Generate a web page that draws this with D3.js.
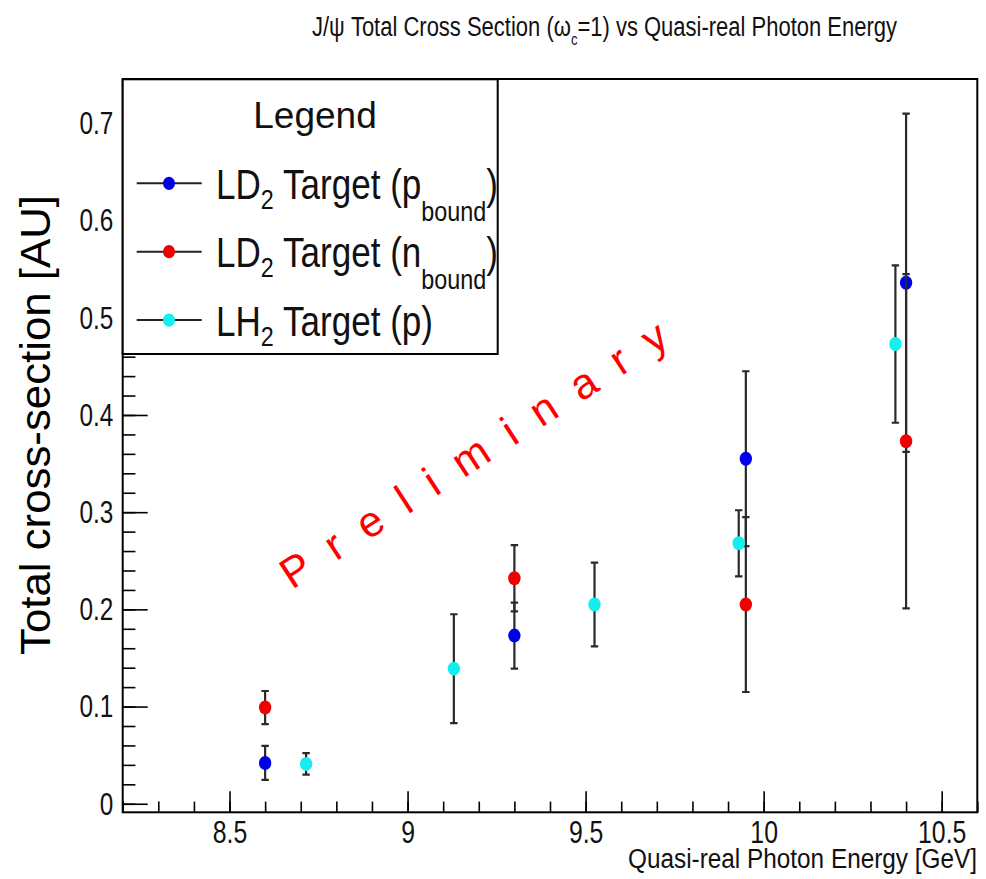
<!DOCTYPE html>
<html>
<head>
<meta charset="utf-8">
<script src="https://cdn.jsdelivr.net/npm/d3@7"></script>
<style>
body { margin: 0; background: #fff; }
svg { display: block; }
text { font-family: "Liberation Sans", Arial, Helvetica, sans-serif; }
</style>
</head>
<body>
<svg id="chart" width="986" height="879"></svg>
<script>
// LD2 target, bound proton
const ld2pEnergy = [8.6, 9.3, 9.95, 10.4]
const ld2pSigma = [0.042, 0.173, 0.355, 0.536]
const ld2pError = [0.0175, 0.034, 0.09, 0.174]
// LD2 target, bound neutron
const ld2nEnergy = [8.6, 9.3, 9.95, 10.4]
const ld2nSigma = [0.099, 0.232, 0.205, 0.373]
const ld2nError = [0.017, 0.034, 0.09, 0.172]
// LH2 target, free proton
const lh2Energy = [8.715, 9.13, 9.525, 9.93, 10.37]
const lh2Sigma = [0.041, 0.139, 0.205, 0.268, 0.473]
const lh2Error = [0.011, 0.056, 0.043, 0.034, 0.081]

const xTicks = [8.5, 9, 9.5, 10, 10.5]
const xTickLabels = ['8.5', '9', '9.5', '10', '10.5']
const yTicks = [0, 0.1, 0.2, 0.3, 0.4, 0.5, 0.6, 0.7]
const yTickLabels = ['0', '0.1', '0.2', '0.3', '0.4', '0.5', '0.6', '0.7']

function main() {
    let svg = d3.select('#chart')
    svg.append('rect').attr('width', 986).attr('height', 879).attr('fill', '#fff')

    let x = d3.scaleLinear().domain([8.2, 10.6]).range([122.7, 977.3]),
        y = d3.scaleLinear().domain([-0.0088, 0.7457]).range([812.3, 79])

    let series = [
        {id: 'p', color: '#0000e8', e: ld2pEnergy, v: ld2pSigma, err: ld2pError},
        {id: 'n', color: '#f00000', e: ld2nEnergy, v: ld2nSigma, err: ld2nError},
        {id: 'h', color: '#14eeee', e: lh2Energy, v: lh2Sigma, err: lh2Error}
    ]

    let xMinor = d3.range(82, 107).map(d => d / 10),
        yMinor = d3.range(0, 38).map(d => d / 50)

    // minor ticks
    svg.append('g')
        .attr('transform', 'translate(0,' + y.range()[0] + ')')
        .attr('color', '#000')
        .call(d3.axisBottom(x).tickValues(xMinor).tickSize(-10.7).tickFormat(''))
        .call(g => g.select('.domain').remove())
        .selectAll('line').attr('stroke-width', 1.6)

    svg.append('g')
        .attr('transform', 'translate(' + x.range()[0] + ',0)')
        .attr('color', '#000')
        .call(d3.axisLeft(y).tickValues(yMinor).tickSize(-12.7).tickFormat(''))
        .call(g => g.select('.domain').remove())
        .selectAll('line').attr('stroke-width', 1.6)

    // major ticks + labels
    let xAxis = svg.append('g')
        .attr('transform', 'translate(0,' + y.range()[0] + ')')
        .attr('color', '#000')
        .call(d3.axisBottom(x).tickValues(xTicks).tickSize(-21).tickPadding(9)
            .tickFormat((d, i) => xTickLabels[i]))
        .call(g => g.select('.domain').remove())
    xAxis.selectAll('line').attr('stroke-width', 1.6)
    xAxis.selectAll('text')
        .attr('font-size', 31)
        .attr('font-family', '"Liberation Sans", Arial, sans-serif')
        .attr('transform', 'scale(0.8,1)')
        .attr('fill', '#111')

    let yAxis = svg.append('g')
        .attr('transform', 'translate(' + x.range()[0] + ',0)')
        .attr('color', '#000')
        .call(d3.axisLeft(y).tickValues(yTicks).tickSize(-25).tickPadding(12)
            .tickFormat((d, i) => yTickLabels[i]))
        .call(g => g.select('.domain').remove())
    yAxis.selectAll('line').attr('stroke-width', 1.6)
    yAxis.selectAll('text')
        .attr('font-size', 32)
        .attr('font-family', '"Liberation Sans", Arial, sans-serif')
        .attr('transform', 'scale(0.76,1)')
        .attr('x', -12.3)
        .attr('fill', '#111')

    // frame
    svg.append('rect')
        .attr('x', x.range()[0]).attr('y', y.range()[1])
        .attr('width', x.range()[1] - x.range()[0])
        .attr('height', y.range()[0] - y.range()[1])
        .attr('fill', 'none').attr('stroke', '#000').attr('stroke-width', 2)

    // error bars and points
    let cap = 3.7
    series.forEach(s => {
        let pts = s.e.map((e, i) => ({e: e, v: s.v[i], err: s.err[i]}))
        let g = svg.append('g').attr('class', 'series-' + s.id)
        g.selectAll('.bar').data(pts).enter().append('path')
            .attr('class', 'bar')
            .attr('d', d => {
                let cx = x(d.e), y0 = y(d.v - d.err), y1 = y(d.v + d.err)
                return 'M' + cx + ',' + y0 + 'V' + y1 +
                    'M' + (cx - cap) + ',' + y1 + 'H' + (cx + cap) +
                    'M' + (cx - cap) + ',' + y0 + 'H' + (cx + cap)
            })
            .attr('stroke', '#2a2a2a').attr('stroke-width', 2.2).attr('fill', 'none')
        g.selectAll('.pt').data(pts).enter().append('ellipse')
            .attr('class', 'pt')
            .attr('cx', d => x(d.e)).attr('cy', d => y(d.v))
            .attr('rx', 6.2).attr('ry', 7)
            .attr('fill', s.color)
    })

    // legend
    let legend = svg.append('g').attr('class', 'legend')
    legend.append('rect')
        .attr('x', 122.7).attr('y', 79.3).attr('width', 375).attr('height', 274.7)
        .attr('fill', '#fff').attr('stroke', '#000').attr('stroke-width', 2)
    legend.append('text')
        .attr('x', 315).attr('y', 128).attr('text-anchor', 'middle')
        .attr('font-size', 37).attr('fill', '#111')
        .text('Legend')

    let rows = [
        {color: series[0].color, head: 'LD', tail: ' Target (p', sub: 'bound', end: ')'},
        {color: series[1].color, head: 'LD', tail: ' Target (n', sub: 'bound', end: ')'},
        {color: series[2].color, head: 'LH', tail: ' Target (p)', sub: null, end: ''}
    ]
    rows.forEach((r, i) => {
        let cy = 183.3 + i * 68.4
        legend.append('line')
            .attr('x1', 136.7).attr('x2', 201.7).attr('y1', cy).attr('y2', cy)
            .attr('stroke', '#222').attr('stroke-width', 2)
        legend.append('ellipse')
            .attr('cx', 169).attr('cy', cy).attr('rx', 6).attr('ry', 6.6)
            .attr('fill', r.color)
        let t = legend.append('g')
            .attr('transform', 'translate(216,' + (cy + 15.5) + ') scale(0.835,1)')
            .append('text').attr('font-size', 42).attr('fill', '#111')
        t.append('tspan').text(r.head)
        t.append('tspan').attr('font-size', 28).attr('dy', 10).text('2')
        t.append('tspan').attr('dy', -10).text(r.tail)
        if (r.sub) {
            t.append('tspan').attr('font-size', 28).attr('dy', 22).text(r.sub)
            t.append('tspan').attr('dy', -22).text(r.end)
        }
    })

    // title
    svg.append('text')
        .attr('x', 312).attr('y', 36)
        .attr('font-size', 27).attr('fill', '#111')
        .attr('textLength', 585).attr('lengthAdjust', 'spacingAndGlyphs')
        .html('J/\u03c8 Total Cross Section (\u03c9<tspan font-size="16" dy="9">c</tspan><tspan dy="-9">=1) vs Quasi-real Photon Energy</tspan>')

    // axis titles
    svg.append('text')
        .attr('x', 977).attr('y', 868).attr('text-anchor', 'end')
        .attr('font-size', 27).attr('fill', '#111')
        .attr('textLength', 349).attr('lengthAdjust', 'spacingAndGlyphs')
        .text('Quasi-real Photon Energy [GeV]')

    svg.append('text')
        .attr('transform', 'translate(50,425) rotate(-90)')
        .attr('text-anchor', 'middle')
        .attr('font-family', 'Lato, "Open Sans", sans-serif')
        .attr('font-size', 42).attr('fill', '#000')
        .attr('textLength', 460).attr('lengthAdjust', 'spacingAndGlyphs')
        .text('Total cross-section [AU]')

    // watermark
    svg.append('text')
        .attr('transform', 'translate(292,590) rotate(-33)')
        .attr('font-family', 'Lato, "Open Sans", sans-serif')
        .attr('font-size', 43).attr('fill', '#ff0000')
        .attr('textLength', 452).attr('lengthAdjust', 'spacing')
        .text('Preliminary')
}

main()
</script>
</body>
</html>
